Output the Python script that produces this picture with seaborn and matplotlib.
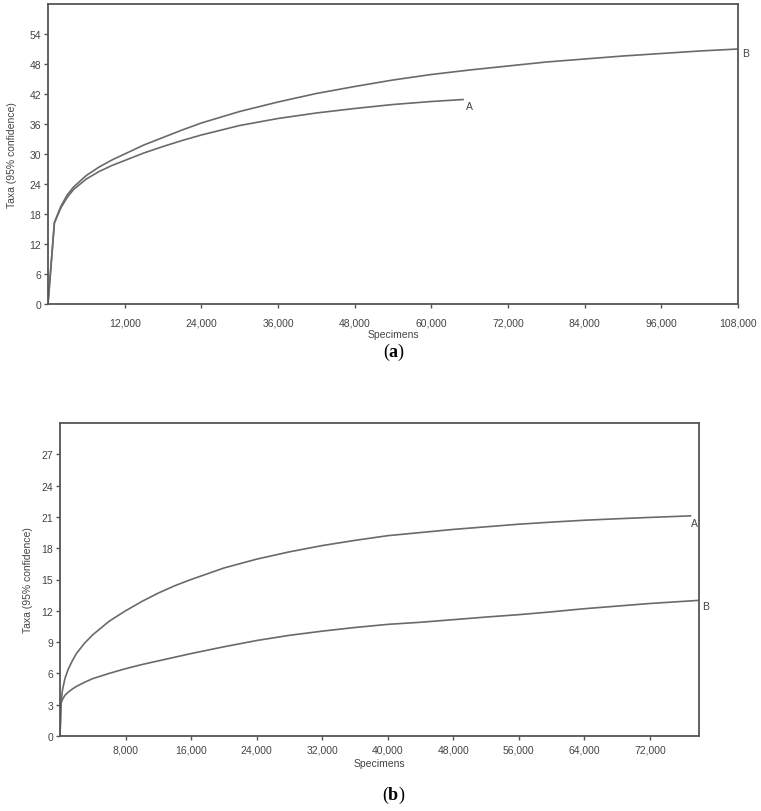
import matplotlib
matplotlib.use("Agg")
import matplotlib.pyplot as plt
import seaborn as sns
import pandas as pd

# Panel (a) data
a_x_A = [0, 1000, 2000, 3000, 4000, 6000, 8000, 10000, 12000, 15000, 18000, 21000,
         24000, 30000, 36000, 42000, 48000, 54000, 60000, 65000]
a_y_A = [0, 16.2, 19.2, 21.3, 22.9, 25.0, 26.5, 27.7, 28.7, 30.2, 31.5, 32.7,
         33.8, 35.7, 37.1, 38.2, 39.1, 39.9, 40.5, 40.9]
a_x_B = [0, 1000, 2000, 3000, 4000, 6000, 8000, 10000, 12000, 15000, 18000, 21000,
         24000, 30000, 36000, 42000, 48000, 54000, 60000, 66000, 72000, 78000,
         84000, 90000, 96000, 102000, 108000]
a_y_B = [0, 16.3, 19.5, 21.8, 23.4, 25.7, 27.4, 28.8, 30.0, 31.8, 33.3, 34.8,
         36.2, 38.5, 40.4, 42.1, 43.5, 44.8, 45.9, 46.8, 47.6, 48.4,
         49.0, 49.6, 50.1, 50.6, 51.0]

# Panel (b) data
b_x_A = [0, 120, 300, 600, 1000, 1500, 2000, 3000, 4000, 6000, 8000, 10000, 12000,
         14000, 16000, 20000, 24000, 28000, 32000, 36000, 40000, 44000, 48000,
         52000, 56000, 60000, 64000, 68000, 72000, 77000]
b_y_A = [0, 3.1, 4.4, 5.5, 6.4, 7.2, 7.9, 8.9, 9.7, 11.0, 12.0, 12.9, 13.7,
         14.4, 15.0, 16.1, 16.95, 17.65, 18.25, 18.75, 19.2, 19.5, 19.8,
         20.05, 20.3, 20.5, 20.68, 20.82, 20.95, 21.1]
b_x_B = [0, 120, 300, 600, 1000, 1500, 2000, 3000, 4000, 6000, 8000, 10000, 12000,
         14000, 16000, 20000, 24000, 28000, 32000, 36000, 40000, 44000, 48000,
         52000, 56000, 60000, 64000, 68000, 72000, 78000]
b_y_B = [0, 3.1, 3.5, 3.9, 4.2, 4.5, 4.75, 5.15, 5.5, 6.0, 6.45, 6.85, 7.2,
         7.55, 7.9, 8.55, 9.15, 9.65, 10.05, 10.4, 10.7, 10.9, 11.15,
         11.4, 11.63, 11.9, 12.2, 12.45, 12.7, 13.0]

a_xticks = [12000, 24000, 36000, 48000, 60000, 72000, 84000, 96000, 108000]
a_yticks = [0, 6, 12, 18, 24, 30, 36, 42, 48, 54]
b_xticks = [8000, 16000, 24000, 32000, 40000, 48000, 56000, 64000, 72000]
b_yticks = [0, 3, 6, 9, 12, 15, 18, 21, 24, 27]

sns.set_style("ticks")
plt.rcParams['font.family'] = ['Liberation Sans', 'DejaVu Sans']
plt.rcParams['mathtext.fontset'] = 'custom'
plt.rcParams['mathtext.rm'] = 'Liberation Serif'
plt.rcParams['mathtext.bf'] = 'Liberation Serif:bold'

fig = plt.figure(figsize=(7.61, 8.12), dpi=100)
line_col = "#6a6a6a"
spine_col = "#555555"
txt_col = "#444444"

def make_df(xa, ya, xb, yb):
    return pd.concat([
        pd.DataFrame({"x": xa, "y": ya, "s": "A"}),
        pd.DataFrame({"x": xb, "y": yb, "s": "B"}),
    ], ignore_index=True)

def style(ax, xlim, ylim, xticks, yticks, xpad, xlabpad, ylabpad):
    ax.set_xlim(*xlim)
    ax.set_ylim(*ylim)
    ax.set_xticks(xticks)
    ax.set_xticklabels([f"{t:,}" for t in xticks])
    ax.set_yticks(yticks)
    ax.set_yticklabels([str(t) for t in yticks])
    for sp in ax.spines.values():
        sp.set_visible(True)
        sp.set_color(spine_col)
        sp.set_linewidth(1.3)
    ax.tick_params(axis="both", length=3, width=1, color=spine_col,
                   labelsize=7.5, labelcolor=txt_col, pad=2)
    ax.tick_params(axis="x", pad=xpad)
    ax.set_xlabel("Specimens", fontsize=7.5, color=txt_col, labelpad=xlabpad)
    ax.set_ylabel("Taxa (95% confidence)", fontsize=7.5, color=txt_col, labelpad=ylabpad)

# Panel (a)
ax1 = fig.add_axes([48/761, 1-305/812, 690/761, 300/812])
df_a = make_df(a_x_A, a_y_A, a_x_B, a_y_B)
sns.lineplot(data=df_a, x="x", y="y", hue="s", palette=[line_col, line_col],
             ax=ax1, linewidth=1.2, estimator=None, sort=False, legend=False)
style(ax1, (0, 108000), (0, 60), a_xticks, a_yticks, xpad=7, xlabpad=1, ylabpad=9)
ax1.annotate("A", (a_x_A[-1], a_y_A[-1]), xytext=(2, -5), textcoords="offset points",
             fontsize=7.5, color=txt_col, va="center")
ax1.annotate("B", (a_x_B[-1], a_y_B[-1]), xytext=(3, -3), textcoords="offset points",
             fontsize=7.5, color=txt_col, va="center", annotation_clip=False)

# Panel (b)
ax2 = fig.add_axes([60/761, 1-737/812, 639/761, 313/812])
df_b = make_df(b_x_A, b_y_A, b_x_B, b_y_B)
sns.lineplot(data=df_b, x="x", y="y", hue="s", palette=[line_col, line_col],
             ax=ax2, linewidth=1.2, estimator=None, sort=False, legend=False)
style(ax2, (0, 78000), (0, 30), b_xticks, b_yticks, xpad=3, xlabpad=3, ylabpad=6)
ax2.annotate("A", (b_x_A[-1], b_y_A[-1]), xytext=(0, -5), textcoords="offset points",
             fontsize=7.5, color=txt_col, va="center")
ax2.annotate("B", (b_x_B[-1], b_y_B[-1]), xytext=(2, -4), textcoords="offset points",
             fontsize=7.5, color=txt_col, va="center", annotation_clip=False)

# Captions
fig.text(394/761, 1-352/812, r"($\mathbf{a}$)", ha="center", va="center",
         fontsize=13, family="Liberation Serif", color="black")
fig.text(394/761, 1-795/812, r"($\mathbf{b}$)", ha="center", va="center",
         fontsize=13, family="Liberation Serif", color="black")

fig.savefig("out.png", dpi=100)
